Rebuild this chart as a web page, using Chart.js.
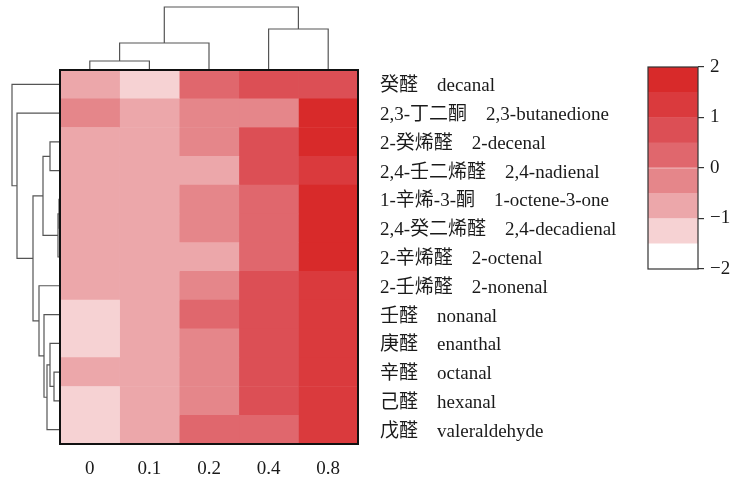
<!DOCTYPE html>
<html>
<head>
<meta charset="utf-8">
<script src="https://cdn.jsdelivr.net/npm/chart.js@4/dist/chart.umd.min.js"></script>
<style>
  html, body { margin: 0; padding: 0; background: #fff; }
  #wrap { position: relative; width: 734px; height: 480px; }
  #main { position: absolute; left: 0; top: 0; }
  #bar { position: absolute; left: 620px; top: 0; }
</style>
</head>
<body>
<div id="wrap">
  <canvas id="main" width="734" height="480"></canvas>
  <canvas id="bar" width="114" height="480"></canvas>
</div>
<script>
// Aldehyde concentrations (columns) and compounds (rows, clustered order)
const concentrations = ['0', '0.1', '0.2', '0.4', '0.8'];
const compounds = [
  '癸醛\u3000decanal',
  '2,3-丁二酮\u30002,3-butanedione',
  '2-癸烯醛\u30002-decenal',
  '2,4-壬二烯醛\u30002,4-nadienal',
  '1-辛烯-3-酮\u30001-octene-3-one',
  '2,4-癸二烯醛\u30002,4-decadienal',
  '2-辛烯醛\u30002-octenal',
  '2-壬烯醛\u30002-nonenal',
  '壬醛\u3000nonanal',
  '庚醛\u3000enanthal',
  '辛醛\u3000octanal',
  '己醛\u3000hexanal',
  '戊醛\u3000valeraldehyde'
];

// Standardised (z-score) values, one array per concentration, in row order
const z0   = [-0.8, -0.2, -0.7, -0.7, -0.7, -0.7, -0.7, -0.6, -1.2, -1.2, -0.8, -1.3, -1.2];
const z01  = [-1.3, -0.7, -0.7, -0.8, -0.7, -0.7, -0.7, -0.7, -0.7, -0.7, -0.7, -0.7, -0.7];
const z02  = [ 0.3, -0.3, -0.2, -0.6, -0.3, -0.2, -0.7, -0.3,  0.2, -0.3, -0.2, -0.3,  0.3];
const z04  = [ 0.8, -0.4,  0.8,  0.7,  0.4,  0.3,  0.3,  0.8,  0.8,  0.7,  0.8,  0.8,  0.4];
const z08  = [ 0.7,  1.8,  1.8,  1.3,  1.8,  1.8,  1.7,  1.4,  1.3,  1.3,  1.3,  1.4,  1.3];
const columns = [z0, z01, z02, z04, z08];

// Colour scale: 8 steps of 0.5 between -2 and 2
const scaleTicks = [-2, -1, 0, 1, 2];
const levelEdges = [-2, -1.5, -1, -0.5, 0, 0.5, 1, 1.5, 2];
const levelColors = ['#ffffff', '#f6d2d3', '#eca7aa', '#e5868a', '#e0676d', '#dc4f55', '#da3a3d', '#d82a2a'];

// Hierarchical clustering: [childA, childB, distance]; ids >= n are earlier merges
const colLinkage = [
  [0, 1, 0.9],
  [5, 2, 2.7],
  [3, 4, 4.1],
  [6, 7, 6.3]
];
const rowLinkage = [
  [4, 5, 0.1],
  [13, 6, 0.2],
  [2, 3, 1.0],
  [15, 14, 1.7],
  [10, 11, 0.6],
  [9, 17, 1.0],
  [18, 12, 1.3],
  [8, 19, 1.6],
  [7, 20, 2.1],
  [16, 21, 2.7],
  [1, 22, 4.3],
  [0, 23, 4.8]
];

function colorFor(v) {
  for (let i = 0; i < levelColors.length; i++) {
    if (v < levelEdges[i + 1]) return levelColors[i];
  }
  return levelColors[levelColors.length - 1];
}

const FONT = '"Liberation Serif", "Times New Roman", "Noto Sans CJK SC", serif';
const TXT = '#1a1a1a';

// Walks a linkage and draws the tree; leafPos gives pixel centre of each leaf
function drawTree(ctx, linkage, n, leafPos, toPx, vertical) {
  const pos = [], ht = [];
  for (let i = 0; i < n; i++) { pos[i] = leafPos(i); ht[i] = 0; }
  linkage.forEach(([a, b, d], k) => {
    const id = n + k;
    pos[id] = (pos[a] + pos[b]) / 2;
    ht[id] = d;
    const ha = toPx(ht[a]), hb = toPx(ht[b]), h = toPx(d);
    ctx.beginPath();
    if (vertical) {
      ctx.moveTo(pos[a], ha); ctx.lineTo(pos[a], h);
      ctx.lineTo(pos[b], h); ctx.lineTo(pos[b], hb);
    } else {
      ctx.moveTo(ha, pos[a]); ctx.lineTo(h, pos[a]);
      ctx.lineTo(h, pos[b]); ctx.lineTo(hb, pos[b]);
    }
    ctx.stroke();
  });
}

const dendrogramPlugin = {
  id: 'dendrograms',
  afterDatasetsDraw(chart) {
    const { ctx, chartArea: a, scales } = chart;
    ctx.save();
    ctx.strokeStyle = '#555';
    ctx.lineWidth = 1.2;
    // column tree above the heat map
    drawTree(ctx, colLinkage, concentrations.length,
      i => scales.x.getPixelForValue(i + 0.5),
      d => a.top - d * 10, true);
    // row tree to the left of the heat map
    drawTree(ctx, rowLinkage, compounds.length,
      i => scales.y.getPixelForValue(i),
      d => a.left - d * 10, false);
    // frame
    ctx.strokeStyle = '#111';
    ctx.lineWidth = 2;
    ctx.strokeRect(a.left, a.top, a.right - a.left, a.bottom - a.top);
    ctx.restore();
  }
};

new Chart(document.getElementById('main'), {
  type: 'bar',
  data: {
    labels: compounds,
    datasets: columns.map((vals, j) => ({
      data: vals.map(() => [j, j + 1]),
      backgroundColor: vals.map(colorFor),
      borderWidth: 0,
      grouped: false,
      barPercentage: 1,
      categoryPercentage: 1,
      xAxisID: 'x',
      yAxisID: 'y'
    }))
  },
  options: {
    indexAxis: 'y',
    responsive: false,
    animation: false,
    layout: { padding: { left: 60, top: 70, right: 0, bottom: 0 } },
    plugins: { legend: { display: false }, tooltip: { enabled: false } },
    scales: {
      x: { type: 'linear', min: 0, max: 5, display: false },
      xc: {
        type: 'category',
        labels: concentrations,
        position: 'bottom',
        offset: true,
        grid: { display: false },
        border: { display: false },
        ticks: { color: TXT, font: { family: FONT, size: 19 }, padding: 6 },
        afterFit(s) { s.height = 36; }
      },
      y: {
        type: 'category',
        position: 'right',
        grid: { display: false },
        border: { display: false },
        ticks: { color: TXT, font: { family: FONT, size: 19 }, padding: 14, crossAlign: 'near', labelOffset: 2 },
        afterFit(s) { s.width = 376; }
      }
    }
  },
  plugins: [dendrogramPlugin]
});

// Colour bar legend
const framePlugin = {
  id: 'frame',
  afterDatasetsDraw(chart) {
    const { ctx, chartArea: a } = chart;
    ctx.save();
    ctx.strokeStyle = '#333';
    ctx.lineWidth = 1.2;
    ctx.strokeRect(a.left, a.top, a.right - a.left, a.bottom - a.top);
    ctx.restore();
  }
};

new Chart(document.getElementById('bar'), {
  type: 'bar',
  data: {
    labels: [''],
    datasets: levelColors.map((c, i) => ({
      data: [[levelEdges[i], levelEdges[i + 1]]],
      backgroundColor: c,
      borderWidth: 0,
      grouped: false,
      barPercentage: 1,
      categoryPercentage: 1
    }))
  },
  options: {
    responsive: false,
    animation: false,
    layout: { padding: { left: 28, top: 67, right: 0, bottom: 211 } },
    plugins: { legend: { display: false }, tooltip: { enabled: false } },
    scales: {
      x: { display: false },
      y: {
        position: 'right',
        min: -2,
        max: 2,
        afterBuildTicks(s) { s.ticks = scaleTicks.map(v => ({ value: v })); },
        grid: { drawOnChartArea: false, drawTicks: true, tickLength: 6, tickColor: '#333', lineWidth: 1.2 },
        border: { display: false },
        ticks: {
          color: TXT,
          font: { family: FONT, size: 19 },
          padding: 6,
          callback: v => (v < 0 ? '\u2212' + Math.abs(v) : String(v))
        },
        afterFit(s) { s.width = 36; }
      }
    }
  },
  plugins: [framePlugin]
});
</script>
</body>
</html>
